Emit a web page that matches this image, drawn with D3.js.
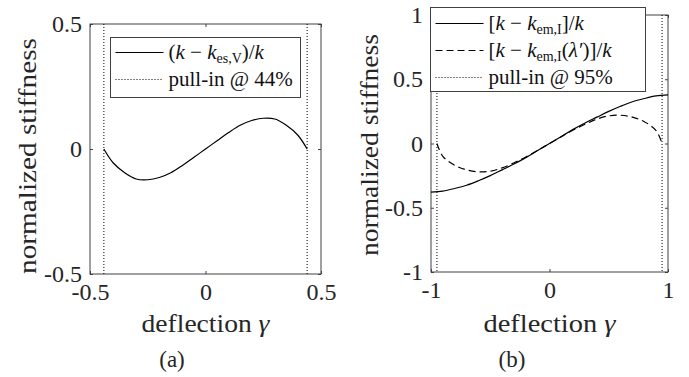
<!DOCTYPE html>
<html>
<head>
<meta charset="UTF-8">
<script src="https://d3js.org/d3.v7.min.js"></script>
<style>
body { margin: 0; background: #fff; }
.frame { fill: none; stroke: #404040; stroke-width: 1; }
.curve { fill: none; stroke: #000; stroke-width: 1.2; }
.pullin { stroke: #000; stroke-width: 1; stroke-dasharray: 1,2; }
</style>
</head>
<body>
<svg id="Fig" width="689" height="377"></svg>
<script>
// panel (a): electrostatic, voltage control
var GammaA = [-0.44,-0.4,-0.35,-0.3,-0.25,-0.2,-0.15,-0.1,-0.05,0,0.05,0.1,0.15,0.2,0.25,0.3,0.35,0.4,0.44];
var StiffA = [0,-0.055,-0.095,-0.12,-0.123,-0.114,-0.095,-0.066,-0.033,0,0.033,0.066,0.095,0.114,0.123,0.12,0.095,0.055,0];
var PullInA = [-0.44, 0.44];

// panel (b): electromagnetic, current control
var GammaB = [-1,-0.9,-0.8,-0.7,-0.6,-0.5,-0.4,-0.3,-0.2,-0.1,0,0.1,0.2,0.3,0.4,0.5,0.6,0.7,0.8,0.9,1];
var StiffB = [-0.378,-0.37,-0.35,-0.325,-0.29,-0.25,-0.205,-0.16,-0.11,-0.055,0,0.055,0.11,0.16,0.205,0.25,0.29,0.325,0.35,0.37,0.378];
var GammaB2 = [-0.95,-0.9,-0.8,-0.7,-0.6,-0.5,-0.4,-0.3,-0.2,-0.1,0,0.1,0.2,0.3,0.4,0.5,0.6,0.7,0.8,0.9,0.95];
var StiffB2 = [0,-0.1,-0.17,-0.205,-0.22,-0.215,-0.19,-0.15,-0.105,-0.053,0,0.053,0.105,0.15,0.19,0.215,0.22,0.205,0.17,0.1,0];
var PullInB = [-0.95, 0.95];

// tick values and labels
var XTicksA = [-0.5, 0, 0.5], XTickTextA = ["-0.5", "0", "0.5"];
var YTicksA = [-0.5, 0, 0.5], YTickTextA = ["-0.5", "0", "0.5"];
var XTicksB = [-1, 0, 1], XTickTextB = ["-1", "0", "1"];
var YTicksB = [-1, -0.5, 0, 0.5, 1], YTickTextB = ["-1", "-0.5", "0", "0.5", "1"];

// legend entries: segments of rich text (i = italic, s = subscript)
var LegendA = [
	{"Style":"solid", "Text":[{"t":"("},{"t":"k","i":1},{"t":" − "},{"t":"k","i":1},{"t":"es,V","s":1},{"t":")/"},{"t":"k","i":1}]},
	{"Style":"dotted", "Text":[{"t":"pull-in @ 44%"}]}
];
var LegendB = [
	{"Style":"solid", "Text":[{"t":"["},{"t":"k","i":1},{"t":" − "},{"t":"k","i":1},{"t":"em,I","s":1},{"t":"]/"},{"t":"k","i":1}]},
	{"Style":"dashed", "Text":[{"t":"["},{"t":"k","i":1},{"t":" − "},{"t":"k","i":1},{"t":"em,I","s":1},{"t":"("},{"t":"λ′","i":1},{"t":")]/"},{"t":"k","i":1}]},
	{"Style":"dotted", "Text":[{"t":"pull-in @ 95%"}]}
];

var Svg = d3.select("#Fig");
var Serif = "Liberation Serif";
var K = 2; // text is set small and scaled up so the serif face is kept

function bigText(parent, x, y, size, rot)
{
	return parent.append("text")
		.attr("transform", "translate(" + x + "," + y + ")" + (rot ? " rotate(" + rot + ")" : "") + " scale(" + K + ")")
		.attr("font-family", Serif).attr("font-size", size / K).attr("fill", "#262626");
}

function drawPanel(P)
{
	var g = Svg.append("g");
	var x = d3.scaleLinear().domain(P.XDomain).range([P.Left, P.Right]);
	var y = d3.scaleLinear().domain(P.YDomain).range([P.Bottom, P.Top]);

	// axes with inward ticks
	var fmtX = function(d, i){ return P.XTickText[i]; };
	var fmtY = function(d, i){ return P.YTickText[i]; };
	var axes = [
		[d3.axisBottom(x).tickValues(P.XTicks).tickFormat(fmtX).tickPadding(9), "translate(0," + P.Bottom + ")"],
		[d3.axisTop(x).tickValues(P.XTicks).tickFormat(""), "translate(0," + P.Top + ")"],
		[d3.axisLeft(y).tickValues(P.YTicks).tickFormat(fmtY).tickPadding(8), "translate(" + P.Left + ",0)"],
		[d3.axisRight(y).tickValues(P.YTicks).tickFormat(""), "translate(" + P.Right + ",0)"]
	];
	axes.forEach(function(a)
	{
		var ag = g.append("g").attr("transform", a[1])
			.call(a[0].tickSizeInner(-3).tickSizeOuter(0));
		ag.attr("font-family", Serif).style("color", "#404040");
		ag.select(".domain").remove();
		ag.selectAll(".tick text").each(function()
		{
			var t = d3.select(this);
			t.attr("x", (+t.attr("x") || 0) / K).attr("y", (+t.attr("y") || 0) / K)
				.attr("transform", "scale(" + K + ")")
				.attr("font-family", Serif).attr("font-size", 24 / K).attr("fill", "#262626");
		});
	});

	g.append("rect").attr("class", "frame")
		.attr("x", P.Left).attr("y", P.Top)
		.attr("width", P.Right - P.Left).attr("height", P.Bottom - P.Top);

	// pull-in limits
	g.selectAll(".pullin").data(P.PullIn).enter().append("line")
		.attr("class", "pullin")
		.attr("x1", function(d){ return x(d); }).attr("x2", function(d){ return x(d); })
		.attr("y1", P.Top).attr("y2", P.Bottom);

	var line = d3.line()
		.x(function(d){ return x(d[0]); })
		.y(function(d){ return y(d[1]); })
		.curve(d3.curveCatmullRom);

	P.Series.forEach(function(s)
	{
		g.append("path").attr("class", "curve")
			.attr("d", line(d3.zip(s.X, s.Y)))
			.style("stroke-dasharray", s.Dash);
	});

	// legend
	var L = P.Legend;
	var lg = g.append("g");
	lg.append("rect").attr("x", L.X).attr("y", L.Y).attr("width", L.W).attr("height", L.H)
		.style("fill", "#fff").style("stroke", "#404040").style("stroke-width", 1);
	L.Entries.forEach(function(e, i)
	{
		var cy = L.Y + L.Row0 + i * L.RowH;
		lg.append("line")
			.attr("x1", L.X + 5).attr("x2", L.X + 53).attr("y1", cy).attr("y2", cy)
			.style("stroke", "#000").style("stroke-width", e.Style === "dotted" ? 1 : 1.2)
			.style("stroke-dasharray", e.Style === "dashed" ? "7,4" : (e.Style === "dotted" ? "1,2" : null));
		var t = bigText(lg, L.X + 58, cy + 6, 21).attr("fill", "#111");
		var shifted = false;
		e.Text.forEach(function(seg)
		{
			var ts = t.append("tspan").text(seg.t);
			if (seg.i) ts.attr("font-style", "italic");
			if (seg.s) { ts.attr("font-size", 14 / K).attr("dy", 4 / K); shifted = true; }
			else if (shifted) { ts.attr("dy", -4 / K); shifted = false; }
		});
	});

	// labels
	bigText(g, (P.Left + P.Right) / 2, P.XLabelY, 25)
		.attr("text-anchor", "middle")
		.attr("textLength", P.XLabelLen / K).attr("lengthAdjust", "spacingAndGlyphs")
		.text("deflection ")
		.append("tspan").attr("font-style", "italic").text("γ");
	bigText(g, P.YLabelX, P.YLabelY, 25, -90)
		.attr("text-anchor", "middle")
		.attr("textLength", P.YLabelLen / K).attr("lengthAdjust", "spacingAndGlyphs")
		.text("normalized stiffness");
	bigText(g, P.CapX, 367, 23)
		.attr("text-anchor", "middle")
		.text(P.Caption);
}

drawPanel({
	"Left":90, "Right":321, "Top":24, "Bottom":274,
	"XDomain":[-0.5, 0.5], "YDomain":[-0.5, 0.5],
	"XTicks":XTicksA, "XTickText":XTickTextA, "YTicks":YTicksA, "YTickText":YTickTextA,
	"PullIn":PullInA,
	"Series":[{"X":GammaA, "Y":StiffA, "Dash":null}],
	"Legend":{"X":110.5, "Y":37.5, "W":190, "H":60, "Row0":15, "RowH":27, "Entries":LegendA},
	"XLabelY":332, "XLabelLen":128, "YLabelX":36, "YLabelY":156, "YLabelLen":236,
	"CapX":172, "Caption":"(a)"
});

drawPanel({
	"Left":431, "Right":668, "Top":15, "Bottom":272,
	"XDomain":[-1, 1], "YDomain":[-1, 1],
	"XTicks":XTicksB, "XTickText":XTickTextB, "YTicks":YTicksB, "YTickText":YTickTextB,
	"PullIn":PullInB,
	"Series":[{"X":GammaB, "Y":StiffB, "Dash":null}, {"X":GammaB2, "Y":StiffB2, "Dash":"7,4"}],
	"Legend":{"X":430.5, "Y":7.5, "W":215, "H":84, "Row0":16, "RowH":27, "Entries":LegendB},
	"XLabelY":332, "XLabelLen":132, "YLabelX":378, "YLabelY":145, "YLabelLen":222,
	"CapX":512, "Caption":"(b)"
});
</script>
</body>
</html>
